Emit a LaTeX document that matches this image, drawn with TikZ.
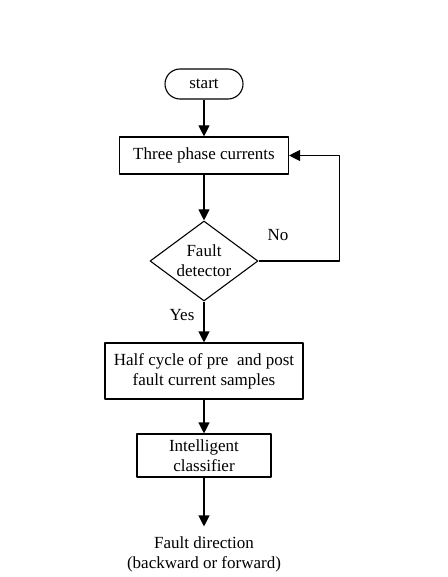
\documentclass[tikz,border=0pt]{standalone}
\usepackage{fontspec}
\setmainfont{Liberation Serif}
\usetikzlibrary{arrows.meta,shapes.geometric}
\begin{document}
\begin{tikzpicture}[x=1pt,y=-1pt,>={Triangle[width=11pt,length=11pt]}, font=\fontsize{17}{20}\selectfont, line width=1.1pt, line join=round,
	box/.style={draw,rectangle,align=center,inner sep=0pt},
	arr/.style={->,shorten >=0pt}]
	\def\xc{204}
	\useasboundingbox (0,0) rectangle (447,577);
	\node[box,rounded corners=15pt,minimum width=78pt,minimum height=30pt] (start) at (\xc,84) {start};
	\node[box,minimum width=169pt,minimum height=37pt] (phase) at (\xc,155.5) {Three phase currents};
	\node[draw,diamond,aspect=1.35,inner sep=0pt,minimum width=108pt,minimum height=80pt,align=center] (detect) at (\xc,261) {Fault\\detector};
	\node[box,minimum width=198pt,minimum height=56pt] (samples) at (\xc,371) {Half cycle of pre\ \ and post\\fault current samples};
	\node[box,minimum width=134pt,minimum height=43pt] (clf) at (\xc,455.5) {Intelligent\\classifier};
	\node[align=center,inner sep=0pt,minimum height=54pt] (dir) at (\xc,554) {Fault direction\\(backward or forward)};
	\node at (278,235) {No};
	\node at (182,315) {Yes};
	\draw[arr] (start) -- (phase);
	\draw[arr] (phase) -- (detect);
	\draw[arr] (detect) -- (samples);
	\draw[arr] (samples) -- (clf);
	\draw[arr] (clf) -- (dir);
	\draw[arr] (detect.east) -- ++(81,0) |- (phase.east);
\end{tikzpicture}
\end{document}
